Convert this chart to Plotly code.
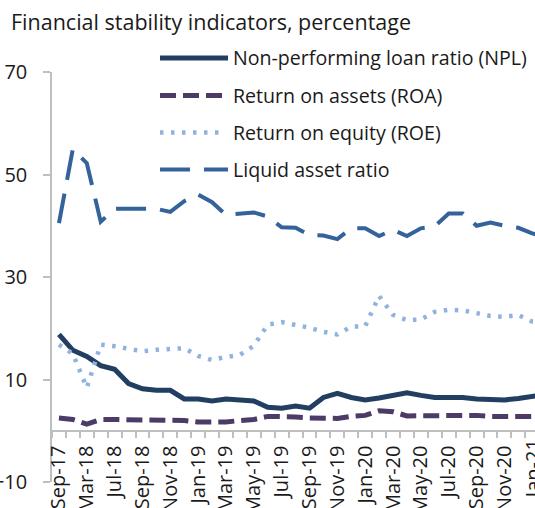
import plotly.graph_objects as go

# monthly from mid-2018, quarterly before
periods = ["Sep-17", "Dec-17", "Mar-18", "Jun-18", "Jul-18", "Aug-18", "Sep-18", "Oct-18",
           "Nov-18", "Dec-18", "Jan-19", "Feb-19", "Mar-19", "Apr-19", "May-19", "Jun-19",
           "Jul-19", "Aug-19", "Sep-19", "Oct-19", "Nov-19", "Dec-19", "Jan-20", "Feb-20",
           "Mar-20", "Apr-20", "May-20", "Jun-20", "Jul-20", "Aug-20", "Sep-20", "Oct-20",
           "Nov-20", "Dec-20", "Jan-21", "Feb-21"]

npl = [18.8, 15.7, 14.5, 12.7, 12.0, 9.2, 8.2, 7.9, 7.9, 6.2, 6.2, 5.8, 6.2, 6.1, 5.8, 4.6,
       4.4, 4.8, 4.4, 6.5, 7.3, 6.5, 6.0, 6.4, 6.9, 7.4, 6.9, 6.5, 6.5, 6.5, 6.2, 6.1,
       6.0, 6.3, 6.8, 7.1]
roa = [2.5, 2.2, 1.3, 2.2, 2.2, 2.2, 2.2, 2.2, 2.2, 2.0, 1.7, 1.6, 1.7, 2.0, 2.2, 2.8,
       2.8, 2.7, 2.5, 2.4, 2.4, 2.8, 3.0, 3.9, 3.7, 2.9, 2.9, 2.9, 3.1, 3.1, 3.0, 2.8,
       2.8, 2.9, 2.8, 2.8]
roe = [16.8, 15.0, 8.4, 16.8, 16.5, 16.1, 15.5, 15.8, 16.0, 16.1, 14.6, 13.8, 14.4, 14.8, 16.6, 20.7,
       21.2, 20.7, 20.1, 19.3, 18.8, 20.3, 20.4, 26.3, 22.6, 21.6, 21.7, 23.2, 23.6, 23.5, 22.9, 22.4,
       22.2, 22.6, 21.3, 21.0]
liquid = [40.5, 55.0, 52.2, 40.8, 43.3, 43.3, 43.3, 43.3, 42.7, 44.8, 46.1, 44.6, 42.1, 42.3, 42.6, 41.8,
          39.7, 39.6, 38.2, 38.1, 37.4, 39.5, 39.5, 38.0, 39.2, 38.0, 39.5, 39.9, 42.4, 42.4, 40.0, 40.6,
          40.0, 39.6, 38.5, 37.8]

names = ["Non-performing loan ratio (NPL)", "Return on assets (ROA)",
         "Return on equity (ROE)", "Liquid asset ratio"]
y_ticks = [-10, 10, 30, 50, 70]

W, H = 535, 508
L, R, T, B = 52, 0, 72, 26

NAVY = "#223F61"
PURPLE = "#4B3B66"
LIGHT = "#8FB3DE"
BLUE = "#33639A"
TXT = "#1a1a1a"
GREY = "#BFBFBF"

series = [
    (npl, NAVY, 5, "solid"),
    (roa, PURPLE, 5, "16px,7px"),
    (roe, LIGHT, 4.5, "3.5px,7.5px"),
    (liquid, BLUE, 4, "30px,14px"),
]

x = list(range(len(periods)))
x_last = 34.2  # chart is cut off at the right edge

fig = go.Figure()
for (vals, col, w, dash), nm in zip(series, names):
    fig.add_trace(go.Scatter(x=x, y=vals, mode="lines", name=nm, showlegend=False,
                             line=dict(color=col, width=w, dash=dash)))


# pixel -> paper fraction
def px_x(p):
    return (p - L) / (W - L - R)


def px_y(p):
    return (H - B - p) / (H - T - B)


# hand drawn legend (the sample lines are longer than plotly's)
leg_y = [58, 95.5, 132.5, 169.5]
leg_end = [228, 222, 224, 228]
for (vals, col, w, dash), nm, yy, xe in zip(series, names, leg_y, leg_end):
    fig.add_shape(type="line", xref="paper", yref="paper",
                  x0=px_x(160), x1=px_x(xe), y0=px_y(yy), y1=px_y(yy),
                  line=dict(color=col, width=w, dash=dash))
    fig.add_annotation(text=nm, xref="paper", yref="paper", x=px_x(231), y=px_y(yy),
                       xanchor="left", yanchor="middle", showarrow=False,
                       font=dict(size=19.6, color=TXT))

# tick labels every second period; plotly drops the one sitting on the cut edge,
# so that one goes in as an annotation
lab_idx = [i for i in x[::2] if i < x_last - 0.5]
edge_idx = [i for i in x[::2] if x_last - 0.5 <= i <= x_last]
for i in edge_idx:
    fig.add_annotation(text=periods[i], xref="x", yref="paper", x=i, y=px_y(437),
                       xanchor="center", yanchor="top", textangle=-90, showarrow=False,
                       font=dict(size=20, color=TXT))

fig.update_layout(
    width=W, height=H,
    margin=dict(l=L, r=R, t=T, b=B, autoexpand=False),
    paper_bgcolor="white", plot_bgcolor="white",
    font=dict(family="Open Sans", size=20, color=TXT),
    title=dict(text="Financial stability indicators, percentage", xref="container", yref="container",
               x=11 / W, y=1 - 22 / H, xanchor="left", yanchor="middle",
               font=dict(size=21.5, color=TXT), automargin=False),
    showlegend=False,
)

fig.update_xaxes(
    range=[-0.5, x_last],
    anchor="free", position=10 / 80, automargin=False,
    tickmode="array", tickvals=lab_idx, ticktext=[periods[i] for i in lab_idx],
    tickangle=-90, ticks="", ticklabelstandoff=6,
    showline=True, linecolor=GREY, linewidth=1.5,
    showgrid=False, zeroline=False,
    minor=dict(tickmode="linear", tick0=-0.5, dtick=1, ticks="outside", ticklen=6,
               tickcolor=GREY, tickwidth=1.5, showgrid=False),
)
fig.update_yaxes(
    range=[-10, 70], automargin=False,
    tickmode="array", tickvals=y_ticks,
    ticks="outside", ticklen=7, tickcolor=GREY, tickwidth=1.5,
    showline=True, linecolor=GREY, linewidth=1.5,
    showgrid=False, zeroline=False, ticklabelstandoff=12,
)

# drop the browser's default 8px body margin so the chart fills the window
fig.write_html("out.html", config={"displayModeBar": False},
               post_script="document.body.style.margin='0';")
